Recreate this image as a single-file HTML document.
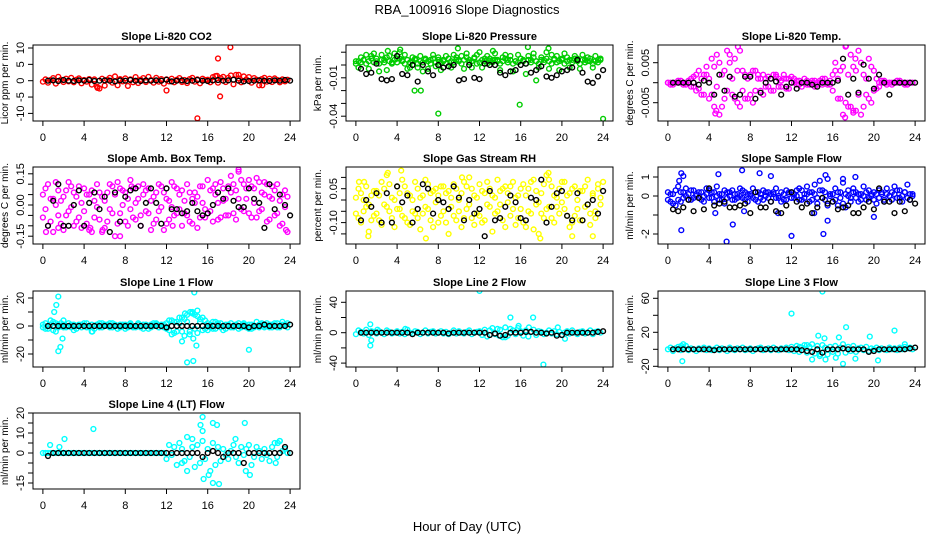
<!DOCTYPE html>
<html><head><meta charset="utf-8"><title>RBA_100916 Slope Diagnostics</title>
<style>
html,body{margin:0;padding:0;background:#fff;}
svg{display:block;font-family:"Liberation Sans",Arial,sans-serif;}
</style></head>
<body>
<svg id="chart" width="936" height="540" viewBox="0 0 936 540" xmlns="http://www.w3.org/2000/svg">
<rect width="936" height="540" fill="#fff"/>
<text x="467" y="14" text-anchor="middle" font-size="13">RBA_100916  Slope Diagnostics</text>
<text x="467" y="531" text-anchor="middle" font-size="13">Hour of Day (UTC)</text>
</svg>
<script>
// ---------- data ----------
const hours = [0,.25,.5,.75,1,1.25,1.5,1.75,2,2.25,2.5,2.75,3,3.25,3.5,3.75,4,4.25,4.5,4.75,5,5.25,5.5,5.75,6,6.25,6.5,6.75,7,7.25,7.5,7.75,8,8.25,8.5,8.75,9,9.25,9.5,9.75,10,10.25,10.5,10.75,11,11.25,11.5,11.75,12,12.25,12.5,12.75,13,13.25,13.5,13.75,14,14.25,14.5,14.75,15,15.25,15.5,15.75,16,16.25,16.5,16.75,17,17.25,17.5,17.75,18,18.25,18.5,18.75,19,19.25,19.5,19.75,20,20.25,20.5,20.75,21,21.25,21.5,21.75,22,22.25,22.5,22.75,23,23.25,23.5,23.75];
const blackHours = [.5,1,1.5,2,2.5,3,3.5,4,4.5,5,5.5,6,6.5,7,7.5,8,8.5,9,9.5,10,10.5,11,11.5,12,12.5,13,13.5,14,14.5,15,15.5,16,16.5,17,17.5,18,18.5,19,19.5,20,20.5,21,21.5,22,22.5,23,23.5,24];

// CO2
const co2A = [-0.3,0.4,-0.6,0.2,0.8,-0.9,1.2,0.3,-0.4,0.6,-0.2,0.9,-0.5,0.3,0.7,-0.8,0.2,-0.3,0.5,-1.2,0.4,-1.8,-2.4,0.6,-1.5,0.3,0.9,-0.6,1.3,-1.4,0.5,-0.2,0.7,-1.6,0.4,-0.5,1.1,-0.7,0.3,0.8,-0.4,1.2,0.2,-0.6,0.9,-0.3,0.5,-0.9,0.4,-0.2,0.6,-0.5,0.3,0.8,-0.4,0.2,-0.7,0.5,0.9,-0.3,0.4,-0.8,0.6,0.2,0.3,-0.5,1.1,1.4,-0.6,0.8,1.2,-0.4,0.9,1.6,-1.1,1.8,0.7,-0.5,1.3,0.4,1.1,-0.6,0.8,0.3,-1.4,0.5,0.9,-0.3,0.6,-0.4,0.7,0.2,-0.5,0.4,-0.2,0.3];
const co2OutX = [12,15,17,17.2,18.2,5.3,16.9,19,21.3];
const co2OutY = [-3,-11.5,6.8,-4.8,10.2,-2.2,1.5,1.8,-1.4];
const co2Black = [0,0.1,-0.1,0.2,0,-0.1,0.1,0,0.2,-0.1,0,0.1,0,-0.2,0.1,0,0.2,0,-0.1,0.1,0,0.1,0,0.3,-0.2,0,0.1,-0.1,0,0.2,0,-0.1,0.1,0.2,0,0.1,0.3,0,-0.2,-0.1,0,0.1,0,-0.1,0.1,0,0.2,0];

// Pressure
const presA = [.001,.003,.002,.004,.001,.003,.005,.002,.003,.001,.004,.002,.006,.003,.001,.004,.002,.005,.003,.001,.004,.002,.003,.005,.001,.003,.002,.004,.003,.001,.005,.002,.004,.002,.003,.001,.005,.003,.002,.004,.003,.001,.004,.006,.002,.003,.005,.001,.002,.004,.003,.001,.005,.002,.004,.003,.001,.003,.005,.002,.004,.001,.003,.002,.005,.003,.001,.004,.002,.006,.003,.001,.004,.002,.005,.003,.001,.004,.002,.003,.005,.001,.003,.004,.002,.005,.003,.001,.004,.002,.003,.005,.001,.003,.002,.004];
const presB = [.003,-.002,.006,.004,.008,-.003,.007,.009,.005,-.005,.008,.004,-.004,.007,.002,.009,.005,.010,.004,.008,-.003,-.002,.006,.004,-.002,.007,-.005,.005,-.003,.004,.008,-.001,.006,-.004,.004,.007,.005,-.002,.008,.006,.004,.007,-.003,.009,.004,-.002,.006,.008,.010,-.002,.005,.007,.003,.004,.009,.004,-.004,.006,.008,.004,.007,-.005,.003,.008,.005,.004,-.007,.007,.004,.009,.003,-.002,.006,.004,.010,-.003,.008,.005,.007,-.004,.004,.009,.006,-.002,.004,.007,.005,-.003,.008,.004,.006,.003,-.002,.007,.004,.005];
const presOutX = [5.7,6.3,8,15.9,24,9.9,16.7,18.7,4.3,3.1,13.3,17.5];
const presOutY = [-.020,-.020,-.038,-.031,-.042,.013,.014,.013,.012,.011,.011,-.012];
const presBlack = [-.003,-.007,-.006,.001,-.011,-.012,-.011,.007,-.007,-.008,.000,-.013,.000,-.005,-.008,.000,-.002,-.001,.000,-.012,-.011,.000,-.010,-.011,.001,.000,.000,-.006,-.008,-.005,-.004,.000,.001,-.006,-.004,-.001,-.009,-.010,-.008,-.005,-.004,-.002,.004,-.006,-.013,-.014,-.009,-.004];

// Li-820 temp
const tempA = [0,0,-.0005,0,.0005,0,-.0005,0,0,-.001,.0015,-.002,.003,-.003,.002,.004,-.004,.006,-.006,.007,-.008,.002,-.004,.008,.005,-.003,.006,-.005,.008,.003,-.004,.001,.002,-.005,.003,.001,-.002,.002,-.001,.0015,.001,-.002,.002,-.001,.0005,.001,-.0015,.001,0,.001,-.0005,.0005,-.001,0,.0005,-.0005,.0005,-.001,0,.0005,-.0005,.001,0,-.0005,.002,.005,-.004,.003,-.008,.009,-.006,.007,.004,-.007,.008,-.008,.002,-.003,.006,-.005,.003,-.0015,0,.0005,0,-.0005,0,0,0,.0005,0,0,-.0005,0,0,0];
const tempB = [0,-.0005,0,0,0,.0005,0,-.0005,.0005,.001,-.001,.002,-.0015,.001,-.003,.002,.001,-.003,.004,-.001,.005,-.006,.003,-.002,.007,.001,-.004,.003,-.006,-.002,.002,-.004,-.003,.003,-.002,.002,.001,-.003,.001,-.001,-.002,.002,.0015,.001,-.001,.002,.001,-.0015,.0015,0,.0005,-.0005,0,.001,-.0005,0,0,.0005,-.0005,0,.001,0,-.0005,.0005,-.002,.003,.001,-.004,.004,-.005,.002,-.006,-.007,.003,-.003,.005,-.006,.001,-.004,.004,-.002,.001,-.001,0,.0005,0,0,-.0005,0,0,.0005,0,0,-.0005,0,0];
const tempOutX = [5.7,17.2,6.8,17.3,4.6,4.7,18,18.2];
const tempOutY = [-.0103,-.0087,.0090,.0092,-.0077,-.0070,-.0075,.006];
const tempBlack = [0,0,0,0,0,-.0005,.0005,0,-.003,.002,-.002,.0015,-.0035,-.003,.0015,.0015,-.004,-.0025,0,.001,.0003,-.003,-.001,0,-.0015,0,0,-.0005,-.001,0,0,0,.0005,.006,-.003,.001,-.0025,.0045,.001,-.0015,.002,0,-.003,0,0,0,0,0];

// Amb box temp
const boxA = [.05,-.02,.10,-.08,.03,.11,-.05,.02,-.12,.07,-.03,.09,-.10,.04,-.06,.01,.08,-.09,.05,-.13,.02,.10,-.07,.04,-.11,.06,-.02,.09,-.15,.11,-.04,.07,-.08,.03,.12,-.06,.01,.09,-.10,.05,-.03,.08,-.12,.04,-.07,.10,-.01,.06,-.09,.02,.11,-.05,.08,-.02,.07,-.04,.10,-.08,.03,.06,-.11,.09,.01,-.06,.12,-.03,.08,.05,-.07,.11,.02,-.05,.09,.14,-.04,.07,.16,-.02,.10,.03,.12,-.06,.08,.13,-.03,.06,.11,-.08,.04,.09,-.05,.10,.02,-.09,.07,-.13];
const boxB = [-.06,.08,-.10,.03,-.13,.00,.07,-.09,.04,-.05,.11,-.01,.06,-.08,.09,-.11,-.03,.05,-.12,.07,-.06,-.01,.06,-.13,.02,-.08,.10,-.04,.05,-.09,.08,.00,.06,-.10,-.02,.08,-.07,.03,-.05,.10,.07,-.04,.02,-.09,.06,-.03,.09,-.12,.03,-.07,-.01,.09,-.04,.05,-.10,.02,-.05,.06,-.09,.01,.04,-.06,.09,-.02,-.04,.07,-.08,.10,.01,-.06,.08,.03,-.05,.06,.10,-.07,.03,.12,-.03,.08,-.04,.09,.01,-.06,.11,-.02,.05,.10,-.07,.03,.07,-.04,-.10,.05,-.01,.04];
const boxOutX = [0.3,7.5,4.6,8.6,19,1.5,5.8,23.6,12.6];
const boxOutY = [-.13,-.15,-.11,.09,.17,-.11,-.12,-.12,-.1];
const boxBlack = [-.10,.02,.10,-.10,-.10,.00,.07,-.10,.01,.06,-.02,.04,-.13,.06,-.08,.04,.07,.08,-.10,.01,.08,.01,-.09,.08,-.02,-.02,-.04,-.03,.01,-.03,-.05,-.04,.00,.06,.03,.08,.02,-.01,-.01,.08,.03,.01,-.11,.10,-.02,.05,.00,-.05];

// Gas stream RH
const rhA = [-.06,.05,-.10,.00,-.03,-.14,.02,-.07,.04,-.09,.08,-.02,.11,-.05,.01,-.12,.06,-.04,.09,-.08,.03,-.11,.00,-.06,.05,-.13,.02,-.03,.07,-.09,.04,-.01,-.10,.06,-.05,.03,-.15,.01,-.07,.05,.00,-.12,.08,-.04,.10,-.08,.02,-.06,.07,-.10,.03,-.02,.05,-.14,.01,-.05,.04,-.09,.06,-.01,-.07,.08,-.11,.02,-.04,.07,-.12,.05,-.06,.09,-.02,-.15,.03,-.08,.11,-.03,.06,-.10,.01,-.06,.08,-.04,.02,-.12,.05,-.07,.00,.04,-.09,.06,-.02,-.11,.03,-.05,.07,.01];
const rhB = [.01,-.08,.03,-.05,.06,-.02,-.09,.04,-.06,.02,-.11,.05,-.03,.07,-.08,.00,-.04,.03,-.07,.06,-.10,.02,-.05,.08,-.08,.01,-.06,.09,-.04,.03,-.12,.05,.02,-.07,.06,-.10,.04,-.03,.07,-.09,-.05,.03,-.08,.06,-.02,.05,-.11,.01,-.07,.04,-.09,.08,-.03,.02,-.06,.09,-.02,.05,-.12,.03,.06,-.04,.01,-.08,.05,-.10,.02,-.05,.08,-.13,.04,-.01,-.06,.07,-.04,.09,-.08,.02,-.03,.05,-.01,.08,-.07,.03,-.10,.06,-.04,-.09,.04,-.03,.09,-.06,.02,-.08,.05,-.02];
const rhOutX = [3.1,4.4,0.3,1.2,6.8,10.3,18.7,17.9,23,21,24,0.8];
const rhOutY = [.12,.13,.08,-.16,-.17,.10,.12,-.17,-.16,-.16,.08,.08];
const rhBlack = [-.09,.00,-.03,.03,-.10,.03,-.10,.06,-.01,.02,-.10,-.04,.07,.05,-.06,.00,-.01,-.04,.06,.01,-.09,.00,-.06,-.04,-.16,.04,-.09,-.08,-.03,.02,-.01,-.08,-.09,.01,.00,.09,-.10,-.03,.03,.04,-.07,-.09,.03,-.09,-.02,.00,-.06,.04];

// Sample flow
const flowA = [-.2,.1,-.4,.3,.5,-.3,.2,.4,.1,-.2,.3,.0,-.1,.2,-.3,.4,.3,-.1,.2,.5,-.2,.1,-.4,.2,.0,.3,-.2,.1,.4,-.1,.2,-.3,.1,.4,-.2,.2,-.1,.3,.0,.2,-.3,.1,.4,-.1,.2,-.2,.3,.1,.2,-.1,.3,.4,-.2,.1,.5,-.3,.2,.6,-.1,.8,.3,-.2,.9,.1,-.3,.4,-.5,.2,.7,-.6,.3,-.1,.4,.2,-.3,.1,.5,-.2,.3,.0,.2,-.4,.3,.1,-.2,.4,.0,.2,.5,-.1,.3,-.3,.2,.6,-.2,.1];
const flowB = [.2,-.3,.1,-.5,-.2,.2,-.1,.0,-.2,.3,-.1,.1,.2,-.2,.0,.1,-.1,.2,-.3,.0,.1,-.2,.3,-.1,.2,-.2,.1,-.1,.0,.3,-.2,.1,.0,-.1,.2,-.3,.1,-.2,.2,-.1,.1,.2,-.1,.0,-.3,.1,-.2,.2,-.1,.1,.0,-.2,.3,-.1,.1,.2,-.2,.1,-.4,.3,-.1,.2,-.5,.0,.1,-.2,.2,-.1,-.4,.1,.0,-.3,.2,-.1,.1,-.2,.0,.2,-.1,.1,-.2,.1,-.1,.2,-.3,.1,.0,-.2,.1,.3,-.1,.0,.2,-.1,.1,.0];
const flowOutX = [1.3,1.3,4.9,5.7,6.3,7.2,8.9,10,12,15.1,15.3,15.5,18.2,20,17,14.2,4.6,7.4,1.1,10.7,1.5];
const flowOutY = [1.2,-1.8,1.15,-2.4,-1.5,1.35,1.2,1.05,-2.1,-2.0,1.1,-1.3,1.0,-1.1,0.9,-0.9,-0.9,-0.8,0.8,-0.9,1.05];
const flowBlack = [-.7,-.8,-.6,-.2,-.8,-.1,-.7,.4,-.5,-.4,-.3,-.6,-.6,-.5,-.4,-.9,.2,-.6,-.6,-.3,-.8,-.9,-.5,.2,-.3,-.6,-.4,-.9,-.6,-.1,-.4,-.3,-.7,-.6,-.5,-.9,-.9,-.6,-.3,-.7,.4,-.3,-.3,-.9,-.3,-.8,-.2,-.4];

// Line 1 flow
const l1A = [-1,2,-2,1,3,-4,1,2,-1,0,2,-1,1,-2,0,1,2,-1,0,1,-2,1,2,-1,0,1,-1,2,0,-2,1,0,1,-1,2,0,-1,1,0,-2,1,0,-1,2,1,-1,0,1,2,-3,4,-5,3,6,-4,5,8,-6,9,-2,7,5,-3,4,2,-1,3,-2,1,2,-3,1,0,2,-1,1,-2,0,2,-1,1,-2,0,3,-1,1,0,2,-1,1,2,-1,0,3,1,-1];
const l1B = [1,-2,0,4,-3,2,-1,0,1,-1,0,1,-3,0,1,-1,0,2,-1,-4,0,1,-1,2,1,0,2,-1,1,0,-1,1,-2,0,1,-1,0,2,-1,1,0,-2,1,0,2,-1,1,-1,-2,4,-6,3,-4,2,6,-7,3,-4,10,8,-5,3,6,-2,-3,1,-2,3,2,-1,0,-2,1,-1,0,1,2,-1,1,0,-2,1,-1,0,1,2,-1,0,1,-1,0,2,-1,1,0,2];
const l1OutX = [1.3,1.5,1.1,1.5,1.7,1.9,14,14.6,14.7,14.9,14.6,13.5,20,13.8,14.3,15,2,4.8];
const l1OutY = [15,21,10,-18,-15,-9,-26,-25,24,-14,-9,-11,-17,9,10,11,4,-4];
const l1Black = [0,0,0,0,0,0,0,0,0,0,0,0,0,0,0,0,0,0,0,0,0,0,0,-1,0,0,0,0,0,0,0,0,0,0,0,0,0,0,0,-1,0,0,1,0,0,0,0,1];

// Line 2 flow
const l2A = [-2,3,1,-1,4,-3,2,1,-1,2,0,-2,3,1,-1,0,2,-1,1,-2,4,0,-1,2,1,-2,0,3,-1,1,2,-1,0,2,-1,1,-2,0,3,-1,2,0,-1,1,3,-2,0,1,2,-3,4,-5,3,6,-2,5,4,-6,7,-4,5,3,-2,6,2,-4,3,-5,1,4,-3,2,1,-2,0,3,-1,2,-2,1,-3,0,2,-1,3,0,-2,1,2,-1,0,3,-2,1,2,0];
const l2OutX = [12,15,17.2,18.2,1.4,1.4,1.5,15.8,16.8,19.6,20.3,14.5,13.9,4.8,2.1];
const l2OutY = [55,20,20,-42,11,-17,-10,9,7,7,-8,-6,-4,5,4];
const l2Black = [0,0,0,0,0,0,0,0,0,0,-2,0,0,0,0,0,0,-1,0,0,0,0,0,0,0,-3,-1,-4,-3,0,0,0,1,1,0,0,-1,0,-4,-3,0,0,0,0,0,0,1,2];

// Line 3 flow
const l3A = [0,2,-2,1,3,-1,2,4,-1,1,0,-2,1,0,2,-1,1,-1,0,2,-1,1,0,-2,2,0,-1,1,0,2,-1,0,1,-2,0,1,2,-1,0,1,-1,2,0,-1,1,0,2,-1,3,-2,4,-3,2,5,-4,3,6,-5,4,-8,5,2,-6,3,-3,4,-5,2,6,-4,3,-2,4,-3,1,2,-1,3,-2,1,0,2,-1,1,0,-1,2,0,1,-1,2,0,3,1,2,0];
const l3OutX = [15,12,22,17.3,16.6,19.6,14.6,15.2,1.4,1.3,1.5,14,15.3,16.3,17,18.2,20.4,23,13.5,14.8,12.8];
const l3OutY = [68,42,22,26,14,15,16,13,-14,4,6,-12,-12,-10,-17,-11,-13,6,5,-6,3];
const l3Black = [0,0,0,0,0,0,0,0,-1,0,0,0,0,0,0,0,0,0,0,0,0,0,0,0,0,-1,-2,-3,0,-4,0,0,0,1,0,0,0,0,-3,-2,0,0,0,0,0,0,1,2];

// Line 4 (LT) flow
const l4A = [0,0,0,0,0,0,0,0,0,0,0,0,0,0,0,0,0,0,0,0,0,0,0,0,0,0,0,0,0,0,0,0,0,0,0,0,0,0,0,0,0,0,0,0,0,0,0,0,-3,4,-1,3,-6,5,2,-4,8,-2,3,-7,4,-5,6,-3,2,-9,5,-6,3,-4,2,-1,-3,1,4,-2,-5,3,-1,2,4,-6,-2,3,1,-3,2,-1,-4,3,5,-2,6,1,2,0];
const l4OutX = [0.7,2.1,1.6,4.9,15.3,15.5,16.5,16.9,19.6,15.5,14.5,18.7,16.5,17.1,15.6,16.1,19.7,20.1,14,13.5,22.6,23,22.8];
const l4OutY = [4,7,3,12,14,18,15,14,15,11,7,7,-15,-15.5,-13,-11,-9,-11,-9,-5,-5,6,5];
const l4Black = [-1.5,0,0,0,0,0,0,0,0,0,0,0,0,0,0,0,0,0,0,0,0,0,0,0,0,0,0,0,0,0,-2,0,1,0,-2,0,0,0,-5,0,0,0,0,0,0,0,3,0];

// ---------- layout (not data) ----------
const colX = [33,346,658];
const rowY = [[45,121],[167,244],[291,367],[413,489]];
const PW = 267;
const xTicks = [0,4,8,12,16,20,24];

const panels = [
 {name:'co2',title:'Slope Li-820 CO2',ylab:'Licor ppm per min.',c:0,r:0,zero:80.7,k:3.27,color:'#ff0000',
  ticks:[-10,-5,0,5,10],labels:['-10','-5','0','5','10'],
  series:[[hours,co2A],[co2OutX,co2OutY]],black:co2Black},
 {name:'pressure',title:'Slope Li-820 Pressure',ylab:'kPa per min.',c:1,r:0,zero:65,k:1280,color:'#00cd00',
  ticks:[0.01,0,-0.01,-0.02,-0.03,-0.04],labels:['','','-0.01','','','-0.04'],
  series:[[hours,presA],[hours,presB],[presOutX,presOutY]],black:presBlack},
 {name:'li820-temp',title:'Slope Li-820 Temp.',ylab:'degrees C per min.',c:2,r:0,zero:82.7,k:4000,color:'#ff00ff',
  ticks:[0.005,0,-0.005],labels:['0.005','','-0.005'],
  series:[[hours,tempA],[hours,tempB],[tempOutX,tempOutY]],black:tempBlack},
 {name:'amb-box-temp',title:'Slope Amb. Box Temp.',ylab:'degrees C per min.',c:0,r:1,zero:205,k:208,color:'#ff00ff',
  ticks:[0.15,0.1,0.05,0,-0.05,-0.1,-0.15],labels:['0.15','','','0.00','','','-0.15'],
  series:[[hours,boxA],[hours,boxB],[boxOutX,boxOutY]],black:boxBlack},
 {name:'gas-stream-rh',title:'Slope Gas Stream RH',ylab:'percent per min.',c:1,r:1,zero:200,k:226,color:'#ffff00',
  ticks:[0.1,0.05,0,-0.05,-0.1,-0.15],labels:['','0.05','','','-0.10',''],
  series:[[hours,rhA],[hours,rhB],[rhOutX,rhOutY]],black:rhBlack},
 {name:'sample-flow',title:'Slope Sample Flow',ylab:'ml/min per min.',c:2,r:1,zero:196,k:19,color:'#0000ff',
  ticks:[1,0,-1,-2],labels:['1','0','','-2'],
  series:[[hours,flowA],[hours,flowB],[flowOutX,flowOutY]],black:flowBlack},
 {name:'line1-flow',title:'Slope Line 1 Flow',ylab:'ml/min per min.',c:0,r:2,zero:326,k:1.4,color:'#00ffff',
  ticks:[20,10,0,-10,-20],labels:['20','','0','','-20'],
  series:[[hours,l1A],[hours,l1B],[l1OutX,l1OutY]],black:l1Black},
 {name:'line2-flow',title:'Slope Line 2 Flow',ylab:'ml/min per min.',c:1,r:2,zero:332.7,k:0.76,color:'#00ffff',
  ticks:[40,20,0,-20,-40],labels:['40','','0','','-40'],
  series:[[hours,l2A],[l2OutX,l2OutY]],black:l2Black},
 {name:'line3-flow',title:'Slope Line 3 Flow',ylab:'ml/min per min.',c:2,r:2,zero:349.3,k:0.85,color:'#00ffff',
  ticks:[60,40,20,0,-20],labels:['60','','20','','-20'],
  series:[[hours,l3A],[l3OutX,l3OutY]],black:l3Black},
 {name:'line4-flow',title:'Slope Line 4 (LT) Flow',ylab:'ml/min per min.',c:0,r:3,zero:453,k:2,color:'#00ffff',
  ticks:[20,15,10,5,0,-5,-10,-15],labels:['20','','10','','0','','','-15'],
  series:[[hours,l4A],[l4OutX,l4OutY]],black:l4Black}
];

const NS='http://www.w3.org/2000/svg';
const svg=document.getElementById('chart');
function mk(tag,attrs,parent){const e=document.createElementNS(NS,tag);for(const k in attrs)e.setAttribute(k,attrs[k]);(parent||svg).appendChild(e);return e;}
const defs=mk('defs',{});

panels.forEach((p,pi)=>{
  const x0=colX[p.c], y0=rowY[p.r][0], y1=rowY[p.r][1];
  const xs=h=>x0+(h+0.96)/25.92*PW;
  const ys=v=>p.zero-v*p.k;
  const g=mk('g',{});
  
  
  const cp=mk('clipPath',{id:'cp'+pi},defs);
  mk('rect',{x:x0,y:y0,width:PW,height:y1-y0},cp);
  const t=mk('text',{x:x0+PW/2,y:y0-5,'text-anchor':'middle','font-size':11,'font-weight':'bold'},g);
  t.textContent=p.title;
  
  
  const pts=mk('g',{'clip-path':'url(#cp'+pi+')',fill:'none','stroke-width':1.4},g);
  
  
  p.series.forEach(s=>{
    const n=Math.min(s[0].length,s[1].length);
    for(let i=0;i<n;i++){
      const c=mk('circle',{cx:xs(s[0][i]).toFixed(1),cy:ys(s[1][i]).toFixed(1),r:2.4,stroke:p.color},pts);
      
      
    }
  });
  const nb=Math.min(blackHours.length,p.black.length);
  for(let i=0;i<nb;i++){
    const c=mk('circle',{cx:xs(blackHours[i]).toFixed(1),cy:ys(p.black[i]).toFixed(1),r:2.4,stroke:'#000'},pts);
    
    
  }
  const box=mk('rect',{x:x0,y:y0,width:PW,height:y1-y0,fill:'none',stroke:'#000','stroke-width':1},g);
  
  
  const xa=mk('g',{},g);
  
  
  mk('line',{x1:xs(0),x2:xs(24),y1:y1,y2:y1,stroke:'#000'},xa);
  xTicks.forEach(v=>{
    mk('line',{x1:xs(v),x2:xs(v),y1:y1,y2:y1+5,stroke:'#000'},xa);
    const tl=mk('text',{x:xs(v),y:y1+20,'text-anchor':'middle','font-size':11},xa);
    tl.textContent=v;
    
    
  });
  const ya=mk('g',{},g);
  
  
  const tv=p.ticks.map(ys);
  mk('line',{x1:x0,x2:x0,y1:Math.min(...tv),y2:Math.max(...tv),stroke:'#000'},ya);
  p.ticks.forEach((v,i)=>{
    const yy=ys(v);
    mk('line',{x1:x0-5,x2:x0,y1:yy,y2:yy,stroke:'#000'},ya);
    if(p.labels[i]){
      const tl=mk('text',{x:x0-9,y:yy,'text-anchor':'middle','font-size':11,transform:'rotate(-90 '+(x0-9)+' '+yy+')'},ya);
      tl.textContent=p.labels[i];
      
      
    }
  });
  const cy=(y0+y1)/2, lx=x0-25;
  const yl=mk('text',{x:lx,y:cy,'text-anchor':'middle','font-size':10,transform:'rotate(-90 '+lx+' '+cy+')'},g);
  yl.textContent=p.ylab;
  
  
});
</script>
</body></html>
